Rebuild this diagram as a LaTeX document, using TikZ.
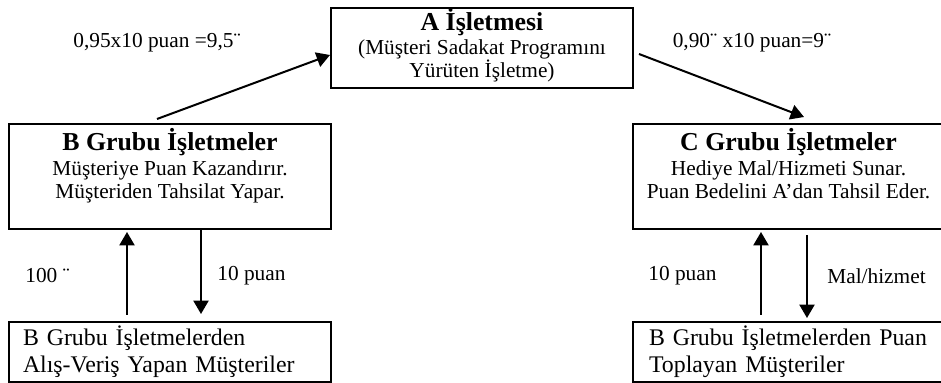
\documentclass[tikz,border=0pt]{standalone}
\usepackage{fontspec}
\setmainfont{Liberation Serif}
\usetikzlibrary{arrows.meta}
\newcommand{\bas}[1]{{\fontsize{15.5}{16}\selectfont\bfseries #1}}

\begin{document}
\begin{tikzpicture}[x=0.6pt,y=-0.6pt,
    font=\fontsize{12.8}{13.8}\selectfont,
    kutu/.style={draw,line width=1.2pt,inner sep=0pt,align=center,anchor=north west},
    musteri/.style={draw,line width=1.2pt,inner ysep=0pt,align=left,anchor=north west,
      minimum height=36pt,font=\fontsize{14.3}{16.2}\selectfont},
    etiket/.style={inner sep=0pt},
    ok/.style={->,line width=1.2pt},
    >={Triangle[length=8pt,width=9pt]}]
  \useasboundingbox (0,0) rectangle (941,383);
  \node[kutu,minimum width=181.2pt,text height=42pt,text depth=6pt] (A) at (330,7)
    {\bas{A İşletmesi}\\[0.6pt](Müşteri Sadakat Programını\\Yürüten İşletme)};
  \node[kutu,minimum width=193.2pt,text height=45pt,text depth=18pt] (B) at (8,123)
    {\bas{B Grubu İşletmeler}\\[1.2pt]Müşteriye Puan Kazandırır.\\Müşteriden Tahsilat Yapar.};
  \node[kutu,minimum width=186.6pt,text height=45pt,text depth=18pt] (C) at (632,123)
    {\bas{C Grubu İşletmeler}\\[1.2pt]Hediye Mal/Hizmeti Sunar.\\Puan Bedelini A’dan Tahsil Eder.};
  \node[musteri,inner xsep=8.4pt,text width=176.4pt] (BM) at (8,321)
    {B Grubu İşletmelerden\\Alış-Veriş Yapan Müşteriler};
  \node[musteri,inner xsep=9.6pt,text width=167.4pt] (CM) at (632,321)
    {\makebox[166.2pt][s]{B Grubu İşletmelerden Puan}\\Toplayan Müşteriler};
  \draw[ok] ([shift={(-7.8pt,2.4pt)}]B.north) -- ([yshift=-4.2pt]A.west);
  \draw[ok] ([shift={(3pt,-3.6pt)}]A.east) -- ([shift={(9.3pt,3.6pt)}]C.north);
  \draw[ok] ([shift={(-25.8pt,3.6pt)}]BM.north) -- ([shift={(-25.8pt,-1.2pt)}]B.south);
  \draw[ok] ([xshift=18.6pt]B.south) -- ([shift={(18.6pt,4.2pt)}]BM.north);
  \draw[ok] ([shift={(-16.5pt,3.6pt)}]CM.north) -- ([shift={(-16.5pt,-1.2pt)}]C.south);
  \draw[ok] ([shift={(11.1pt,-3pt)}]C.south) -- ([shift={(11.1pt,1.8pt)}]CM.north);
  \node[etiket] (L1) at (157,43) {0,95x10 puan =9,5¨};
  \node[etiket] (L2) at (752,43) {0,90¨ x10 puan=9¨};
  \node[etiket,anchor=west] (L3) at (25,276) {100 ¨};
  \node[etiket,anchor=west] (L4) at (217,276) {10 puan};
  \node[etiket,anchor=west] (L5) at (648,276) {10 puan};
  \node[etiket,anchor=west] (L6) at (827,276) {Mal/hizmet};
\end{tikzpicture}
\end{document}
